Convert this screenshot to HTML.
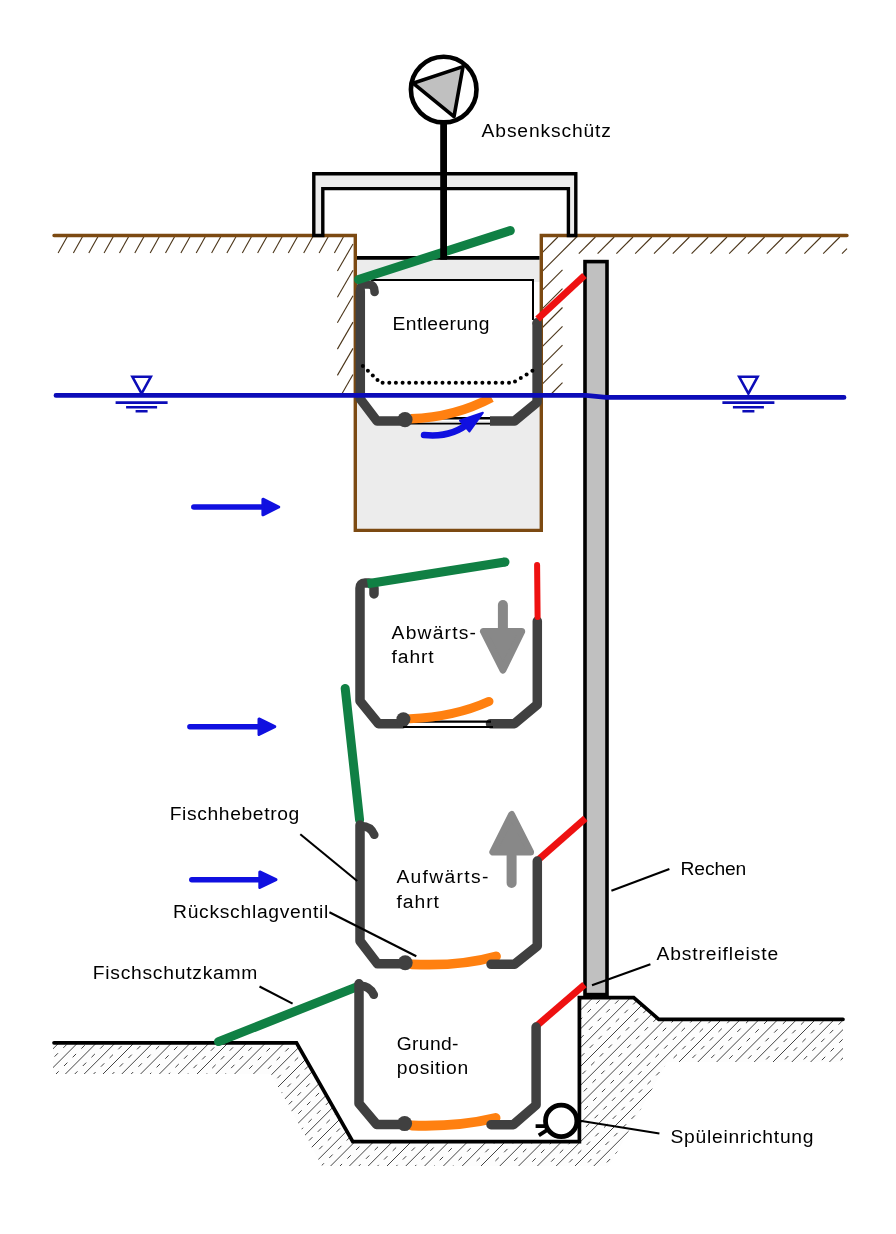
<!DOCTYPE html><html lang="de"><head><meta charset="utf-8"><title>Fischlift</title><style>html,body{margin:0;padding:0;background:#fff}svg{display:block;will-change:transform}text{font-family:"Liberation Sans",sans-serif;font-size:18px;fill:#000}</style></head><body>
<svg width="896" height="1234" viewBox="0 0 896 1234">
<rect width="896" height="1234" fill="#fff"/>
<g stroke="#4a3418" stroke-width="1.1" fill="none">
<path d="M67.6 236L58.1 253"/>
<path d="M82.9 236L73.4 253"/>
<path d="M98.3 236L88.8 253"/>
<path d="M113.6 236L104.1 253"/>
<path d="M129.0 236L119.5 253"/>
<path d="M144.3 236L134.8 253"/>
<path d="M159.7 236L150.2 253"/>
<path d="M175.0 236L165.5 253"/>
<path d="M190.4 236L180.9 253"/>
<path d="M205.7 236L196.2 253"/>
<path d="M221.1 236L211.6 253"/>
<path d="M236.4 236L226.9 253"/>
<path d="M251.8 236L242.3 253"/>
<path d="M267.1 236L257.6 253"/>
<path d="M282.5 236L273.0 253"/>
<path d="M297.8 236L288.3 253"/>
<path d="M313.2 236L303.7 253"/>
<path d="M328.6 236L319.1 253"/>
<path d="M343.9 236L334.4 253"/>
<path d="M353 244.0L337.4 271.0"/>
<path d="M353 270.3L337.4 297.3"/>
<path d="M353 295.8L337.4 322.8"/>
<path d="M353 322.1L337.4 349.1"/>
<path d="M353 348.4L337.4 375.4"/>
<path d="M353 374.6L342.1 393.5"/>
<path d="M542 252.8L557.8 237"/>
<path d="M542 271.6L576.6 237"/>
<path d="M595.4 237L578.8 253.6"/>
<path d="M542.0 290.4L562.5 269.9"/>
<path d="M614.2 237L597.6 253.6"/>
<path d="M542.0 309.2L562.5 288.7"/>
<path d="M633.0 237L616.4 253.6"/>
<path d="M542.0 328.0L562.5 307.5"/>
<path d="M651.8 237L635.2 253.6"/>
<path d="M542.0 346.8L562.5 326.3"/>
<path d="M670.6 237L654.0 253.6"/>
<path d="M542.0 365.6L562.5 345.1"/>
<path d="M689.4 237L672.8 253.6"/>
<path d="M542.0 384.4L562.5 363.9"/>
<path d="M708.2 237L691.6 253.6"/>
<path d="M551.2 394.0L562.5 382.7"/>
<path d="M727.0 237L710.4 253.6"/>
<path d="M745.8 237L729.2 253.6"/>
<path d="M764.6 237L748.0 253.6"/>
<path d="M783.4 237L766.8 253.6"/>
<path d="M802.2 237L785.6 253.6"/>
<path d="M821.0 237L804.4 253.6"/>
<path d="M839.8 237L823.2 253.6"/>
<path d="M847 248.6L842.0 253.6"/>
</g>
<rect x="357" y="258" width="183" height="24" fill="#ececec"/>
<rect x="355.5" y="396" width="186" height="134.5" fill="#ececec"/>
<rect x="360" y="280" width="173" height="115" fill="#fff"/>
<path d="M371 280H533V320" stroke="#000" stroke-width="2" fill="none"/>
<path d="M360 396L360 399L377 421H514L537 402V396Z" fill="#fff"/>
<path d="M54 235.5H355.3V530.4H541.3V235.5H847" stroke="#7c4a12" stroke-width="3.4" fill="none" stroke-linejoin="miter" stroke-linecap="round"/>
<path d="M313.8 235.5V173.8H575.8V235.5H568.4V188.6H322.8V235.5Z" fill="#ececec" stroke="#000" stroke-width="3.4" stroke-linejoin="miter"/>
<path d="M357 257.9H539.5" stroke="#000" stroke-width="3.6"/>
<circle cx="443.7" cy="89.6" r="32.8" fill="#fff" stroke="#000" stroke-width="4.6"/>
<path d="M413 83.2L463 66.6L454 116.6Z" fill="#c0c0c0" stroke="#000" stroke-width="3.6" stroke-linejoin="round"/>
<rect x="585" y="261.6" width="22" height="733" fill="#c0c0c0" stroke="#000" stroke-width="3.6"/>
<g fill="none" stroke-linecap="round" stroke-linejoin="round">
<path d="M360.3 291V399L377 421H405" stroke="#404040" stroke-width="9.5"/>
<path d="M360.3 292V289Q360.3 284.5 365 284.5H368.5Q374.6 284.5 374.6 292" stroke="#404040" stroke-width="8.6"/>
<path d="M490 421H514.5L537.1 402.3V322.5" stroke="#404040" stroke-width="9.5" stroke-linecap="butt"/><circle cx="537.1" cy="322.8" r="4.75" fill="#404040" stroke="none"/>
<path d="M410 418.2H490" stroke="#000" stroke-width="2.4" stroke-linecap="butt"/>
<path d="M410 423.6H490" stroke="#000" stroke-width="1.6" stroke-linecap="butt"/>
<path d="M411 418.8Q455 417.2 491.5 397.6" stroke="#ff8010" stroke-width="9.4" stroke-linecap="butt"/>
<circle cx="405" cy="419.6" r="7.6" fill="#404040"/>
<g fill="#000"><circle cx="362.8" cy="366.1" r="2"/><circle cx="367.9" cy="370.8" r="2"/><circle cx="372.8" cy="375.4" r="2"/><circle cx="377.5" cy="380.0" r="2"/><circle cx="382.6" cy="382.8" r="2"/><circle cx="389.3" cy="382.8" r="2"/><circle cx="395.9" cy="382.8" r="2"/><circle cx="402.6" cy="382.8" r="2"/><circle cx="409.2" cy="382.8" r="2"/><circle cx="415.9" cy="382.8" r="2"/><circle cx="422.5" cy="382.8" r="2"/><circle cx="429.2" cy="382.8" r="2"/><circle cx="435.8" cy="382.8" r="2"/><circle cx="442.5" cy="382.8" r="2"/><circle cx="449.1" cy="382.8" r="2"/><circle cx="455.8" cy="382.8" r="2"/><circle cx="462.4" cy="382.8" r="2"/><circle cx="469.1" cy="382.8" r="2"/><circle cx="475.7" cy="382.8" r="2"/><circle cx="482.4" cy="382.8" r="2"/><circle cx="489.0" cy="382.8" r="2"/><circle cx="495.7" cy="382.8" r="2"/><circle cx="502.3" cy="382.8" r="2"/><circle cx="509.0" cy="382.8" r="2"/><circle cx="515.0" cy="381.4" r="2"/><circle cx="520.8" cy="377.9" r="2"/><circle cx="526.6" cy="374.4" r="2"/><circle cx="532.4" cy="370.8" r="2"/></g>
<path d="M424 435Q452 438 470 422" stroke="#1010e0" stroke-width="6.5"/>
<path d="M482.9 412.7L460 420.5L469.5 431.5Z" fill="#1010e0" stroke="#1010e0" stroke-width="2"/>
</g>
<path d="M56 395.4H586L606 397.4H844" stroke="#0c0cb8" stroke-width="4.8" fill="none" stroke-linecap="round"/>
<g stroke="#0c0cb8" stroke-width="2.6" fill="none"><path d="M132.4 376.8H150.79999999999998L141.6 393.6Z" stroke-linejoin="miter"/><path d="M115.6 402.6H167.6M126.1 407.2H157.1M135.6 411.2H147.6"/></g>
<g stroke="#0c0cb8" stroke-width="2.6" fill="none"><path d="M739.1999999999999 376.8H757.6L748.4 393.6Z" stroke-linejoin="miter"/><path d="M722.4 402.6H774.4M732.9 407.2H763.9M742.4 411.2H754.4"/></g>
<g fill="none" stroke-linecap="round">
<path d="M358.5 279.5L510.3 230.6" stroke="#108044" stroke-width="9"/>
<path d="M443.6 122V259.7" stroke="#000" stroke-width="6.8" stroke-linecap="butt"/>
<path d="M537.6 319L584.5 275.6" stroke="#ee1111" stroke-width="6.8" stroke-linecap="butt"/>
</g>
<g fill="none" stroke-linecap="round" stroke-linejoin="round">
<path d="M374 594V588Q374 583 369 583H365Q360 583 360 588V701L378.5 723.7H403" stroke="#404040" stroke-width="9.5"/>
<path d="M490.5 723.7H514.5L537.3 704.5V621" stroke="#404040" stroke-width="9.5"/>
<path d="M408 721.6H491M403 727H493" stroke="#000" stroke-width="2.1" stroke-linecap="butt"/>
<path d="M410 718.8Q455 716.8 489 701.4" stroke="#ff8010" stroke-width="9"/>
<circle cx="403.4" cy="719.3" r="7" fill="#404040"/>
<path d="M367.5 583.8L505 562" stroke="#108044" stroke-width="9" stroke-linecap="butt"/><circle cx="505" cy="562" r="4.5" fill="#108044"/>
<path d="M537.1 565L537.6 617" stroke="#ee1111" stroke-width="6"/>
</g>
<path d="M502.9 605V630" stroke="#888888" stroke-width="10" stroke-linecap="round"/>
<path d="M483.5 631.5H521.7L502.9 670Z" fill="#888888" stroke="#888888" stroke-width="7" stroke-linejoin="round"/>
<g fill="none" stroke-linecap="round" stroke-linejoin="round">
<path d="M345.2 688.4L359.6 820" stroke="#108044" stroke-width="9"/>
<path d="M360 825V941L377.5 963.8H405" stroke="#404040" stroke-width="9.5"/>
<path d="M361 826Q370.6 826 374.3 834.8" stroke="#404040" stroke-width="8.6"/>
<path d="M412 964.3Q460 966.6 496 956.4" stroke="#ff8010" stroke-width="9.8"/>
<path d="M537.3 860.6L585.4 818.4" stroke="#ee1111" stroke-width="6.8" stroke-linecap="butt"/>
<path d="M491 964.3H514.5L537.3 946V861" stroke="#404040" stroke-width="9.5"/>
<circle cx="405.2" cy="962.8" r="7.5" fill="#404040"/>
</g>
<path d="M511.6 856V883" stroke="#888888" stroke-width="10" stroke-linecap="round"/>
<path d="M492.8 852H530.6L511.6 814.5Z" fill="#888888" stroke="#888888" stroke-width="7" stroke-linejoin="round"/>
<clipPath id="cg"><polygon points="53 1043 296.5 1043 352.8 1141.6 579.4 1141.6 579.4 997.6 633.7 997.6 658.8 1019.3 843 1019.3 843 1062 667 1062 613 1159.5 608 1166 322 1166 271 1074 53 1074"/></clipPath>
<g clip-path="url(#cg)"><rect x="40" y="990" width="820" height="190" fill="#fdfdfd"/><g stroke="#222" stroke-width="0.85" fill="none">
<path d="M93.0 990L-97.0 1180"/>
<path d="M102.4 990L-87.6 1180" stroke-dasharray="4.8 7.5" stroke-dashoffset="9"/>
<path d="M111.8 990L-78.2 1180"/>
<path d="M121.2 990L-68.8 1180" stroke-dasharray="4.8 7.5" stroke-dashoffset="9"/>
<path d="M130.6 990L-59.4 1180"/>
<path d="M140.0 990L-50.0 1180" stroke-dasharray="4.8 7.5" stroke-dashoffset="8"/>
<path d="M149.4 990L-40.6 1180"/>
<path d="M158.8 990L-31.2 1180" stroke-dasharray="4.8 7.5" stroke-dashoffset="8"/>
<path d="M168.2 990L-21.8 1180"/>
<path d="M177.6 990L-12.4 1180" stroke-dasharray="4.8 7.5" stroke-dashoffset="7"/>
<path d="M187.0 990L-3.0 1180"/>
<path d="M196.4 990L6.4 1180" stroke-dasharray="4.8 7.5" stroke-dashoffset="7"/>
<path d="M205.8 990L15.8 1180"/>
<path d="M215.2 990L25.2 1180" stroke-dasharray="4.8 7.5" stroke-dashoffset="7"/>
<path d="M224.6 990L34.6 1180"/>
<path d="M234.0 990L44.0 1180" stroke-dasharray="4.8 7.5" stroke-dashoffset="6"/>
<path d="M243.4 990L53.4 1180"/>
<path d="M252.8 990L62.8 1180" stroke-dasharray="4.8 7.5" stroke-dashoffset="6"/>
<path d="M262.2 990L72.2 1180"/>
<path d="M271.6 990L81.6 1180" stroke-dasharray="4.8 7.5" stroke-dashoffset="5"/>
<path d="M281.0 990L91.0 1180"/>
<path d="M290.4 990L100.4 1180" stroke-dasharray="4.8 7.5" stroke-dashoffset="5"/>
<path d="M299.8 990L109.8 1180"/>
<path d="M309.2 990L119.2 1180" stroke-dasharray="4.8 7.5" stroke-dashoffset="5"/>
<path d="M318.6 990L128.6 1180"/>
<path d="M328.0 990L138.0 1180" stroke-dasharray="4.8 7.5" stroke-dashoffset="4"/>
<path d="M337.4 990L147.4 1180"/>
<path d="M346.8 990L156.8 1180" stroke-dasharray="4.8 7.5" stroke-dashoffset="4"/>
<path d="M356.2 990L166.2 1180"/>
<path d="M365.6 990L175.6 1180" stroke-dasharray="4.8 7.5" stroke-dashoffset="3"/>
<path d="M375.0 990L185.0 1180"/>
<path d="M384.4 990L194.4 1180" stroke-dasharray="4.8 7.5" stroke-dashoffset="3"/>
<path d="M393.8 990L203.8 1180"/>
<path d="M403.2 990L213.2 1180" stroke-dasharray="4.8 7.5" stroke-dashoffset="3"/>
<path d="M412.6 990L222.6 1180"/>
<path d="M422.0 990L232.0 1180" stroke-dasharray="4.8 7.5" stroke-dashoffset="2"/>
<path d="M431.4 990L241.4 1180"/>
<path d="M440.8 990L250.8 1180" stroke-dasharray="4.8 7.5" stroke-dashoffset="2"/>
<path d="M450.2 990L260.2 1180"/>
<path d="M459.6 990L269.6 1180" stroke-dasharray="4.8 7.5" stroke-dashoffset="1"/>
<path d="M469.0 990L279.0 1180"/>
<path d="M478.4 990L288.4 1180" stroke-dasharray="4.8 7.5" stroke-dashoffset="1"/>
<path d="M487.8 990L297.8 1180"/>
<path d="M497.2 990L307.2 1180" stroke-dasharray="4.8 7.5" stroke-dashoffset="1"/>
<path d="M506.6 990L316.6 1180"/>
<path d="M516.0 990L326.0 1180" stroke-dasharray="4.8 7.5" stroke-dashoffset="0"/>
<path d="M525.4 990L335.4 1180"/>
<path d="M534.8 990L344.8 1180" stroke-dasharray="4.8 7.5" stroke-dashoffset="12"/>
<path d="M544.2 990L354.2 1180"/>
<path d="M553.6 990L363.6 1180" stroke-dasharray="4.8 7.5" stroke-dashoffset="11"/>
<path d="M563.0 990L373.0 1180"/>
<path d="M572.4 990L382.4 1180" stroke-dasharray="4.8 7.5" stroke-dashoffset="11"/>
<path d="M581.8 990L391.8 1180"/>
<path d="M591.2 990L401.2 1180" stroke-dasharray="4.8 7.5" stroke-dashoffset="11"/>
<path d="M600.6 990L410.6 1180"/>
<path d="M610.0 990L420.0 1180" stroke-dasharray="4.8 7.5" stroke-dashoffset="10"/>
<path d="M619.4 990L429.4 1180"/>
<path d="M628.8 990L438.8 1180" stroke-dasharray="4.8 7.5" stroke-dashoffset="10"/>
<path d="M638.2 990L448.2 1180"/>
<path d="M647.6 990L457.6 1180" stroke-dasharray="4.8 7.5" stroke-dashoffset="9"/>
<path d="M657.0 990L467.0 1180"/>
<path d="M666.4 990L476.4 1180" stroke-dasharray="4.8 7.5" stroke-dashoffset="9"/>
<path d="M675.8 990L485.8 1180"/>
<path d="M685.2 990L495.2 1180" stroke-dasharray="4.8 7.5" stroke-dashoffset="9"/>
<path d="M694.6 990L504.6 1180"/>
<path d="M704.0 990L514.0 1180" stroke-dasharray="4.8 7.5" stroke-dashoffset="8"/>
<path d="M713.4 990L523.4 1180"/>
<path d="M722.8 990L532.8 1180" stroke-dasharray="4.8 7.5" stroke-dashoffset="8"/>
<path d="M732.2 990L542.2 1180"/>
<path d="M741.6 990L551.6 1180" stroke-dasharray="4.8 7.5" stroke-dashoffset="7"/>
<path d="M751.0 990L561.0 1180"/>
<path d="M760.4 990L570.4 1180" stroke-dasharray="4.8 7.5" stroke-dashoffset="7"/>
<path d="M769.8 990L579.8 1180"/>
<path d="M779.2 990L589.2 1180" stroke-dasharray="4.8 7.5" stroke-dashoffset="7"/>
<path d="M788.6 990L598.6 1180"/>
<path d="M798.0 990L608.0 1180" stroke-dasharray="4.8 7.5" stroke-dashoffset="6"/>
<path d="M807.4 990L617.4 1180"/>
<path d="M816.8 990L626.8 1180" stroke-dasharray="4.8 7.5" stroke-dashoffset="6"/>
<path d="M826.2 990L636.2 1180"/>
<path d="M835.6 990L645.6 1180" stroke-dasharray="4.8 7.5" stroke-dashoffset="5"/>
<path d="M845.0 990L655.0 1180"/>
<path d="M854.4 990L664.4 1180" stroke-dasharray="4.8 7.5" stroke-dashoffset="5"/>
<path d="M863.8 990L673.8 1180"/>
<path d="M873.2 990L683.2 1180" stroke-dasharray="4.8 7.5" stroke-dashoffset="5"/>
<path d="M882.6 990L692.6 1180"/>
<path d="M892.0 990L702.0 1180" stroke-dasharray="4.8 7.5" stroke-dashoffset="4"/>
<path d="M901.4 990L711.4 1180"/>
<path d="M910.8 990L720.8 1180" stroke-dasharray="4.8 7.5" stroke-dashoffset="4"/>
<path d="M920.2 990L730.2 1180"/>
<path d="M929.6 990L739.6 1180" stroke-dasharray="4.8 7.5" stroke-dashoffset="3"/>
<path d="M939.0 990L749.0 1180"/>
<path d="M948.4 990L758.4 1180" stroke-dasharray="4.8 7.5" stroke-dashoffset="3"/>
</g></g>
<path d="M54 1042.8H296.5L352.8 1141.6H579.4V997.6H633.7L658.8 1019.3H843" stroke="#000" stroke-width="3.7" fill="none" stroke-linejoin="miter" stroke-linecap="round"/>
<g fill="none" stroke-linecap="round" stroke-linejoin="round">
<path d="M218.5 1041.6L358 986.4" stroke="#108044" stroke-width="9"/>
<path d="M359 983.8V1103.5L376.6 1124.4H404" stroke="#404040" stroke-width="9.5"/>
<path d="M360 985.6Q370 986 373.8 994.8" stroke="#404040" stroke-width="8.6"/>
<path d="M412 1125.4Q458 1127 495.5 1118" stroke="#ff8010" stroke-width="10"/>
<path d="M536.1 1026.3L584.5 984.6" stroke="#ee1111" stroke-width="6.8" stroke-linecap="butt"/>
<path d="M491 1124.7H513.4L536.1 1105V1027" stroke="#404040" stroke-width="9.5"/>
<circle cx="404.6" cy="1123.6" r="7.5" fill="#404040"/>
</g>
<circle cx="561.2" cy="1120.9" r="15.7" fill="#fff" stroke="#000" stroke-width="4.8"/>
<path d="M535.6 1126.2H545M538.8 1135.4L547 1130.2" stroke="#000" stroke-width="3.8" fill="none"/>
<path d="M193.79999999999998 507H261.4" stroke="#1010e0" stroke-width="5.5" stroke-linecap="round"/>
<path d="M262.9 499.2L278.7 507L262.9 514.8Z" fill="#1010e0" stroke="#1010e0" stroke-width="3" stroke-linejoin="round"/>
<path d="M189.89999999999998 726.7H257.5" stroke="#1010e0" stroke-width="5.5" stroke-linecap="round"/>
<path d="M259.0 718.9000000000001L274.8 726.7L259.0 734.5Z" fill="#1010e0" stroke="#1010e0" stroke-width="3" stroke-linejoin="round"/>
<path d="M191.79999999999998 879.7H258.3" stroke="#1010e0" stroke-width="5.5" stroke-linecap="round"/>
<path d="M259.8 871.9000000000001L276.0 879.7L259.8 887.5Z" fill="#1010e0" stroke="#1010e0" stroke-width="3" stroke-linejoin="round"/>
<g stroke="#000" stroke-width="2.1" fill="none">
<path d="M300.3 834.2L357.2 881"/>
<path d="M329.4 912.2L416.3 956.3"/>
<path d="M259.5 986.5L292.6 1003.6"/>
<path d="M611.4 890.7L669.4 868.9"/>
<path d="M592 985.2L650.4 964.3"/>
<path d="M580 1120.8L659.4 1133.5"/>
</g>
<text transform="translate(481.6 136.5) scale(1.07 1)" textLength="120.9" lengthAdjust="spacing">Absenkschütz</text>
<text transform="translate(392.5 329.6) scale(1.07 1)" textLength="90.5" lengthAdjust="spacing">Entleerung</text>
<text transform="translate(391.6 638.7) scale(1.07 1)" textLength="78.9" lengthAdjust="spacing">Abwärts-</text>
<text transform="translate(391.6 663.2) scale(1.07 1)" textLength="39.3" lengthAdjust="spacing">fahrt</text>
<text transform="translate(396.4 883.1) scale(1.07 1)" textLength="86.0" lengthAdjust="spacing">Aufwärts-</text>
<text transform="translate(396.4 908) scale(1.07 1)" textLength="39.8" lengthAdjust="spacing">fahrt</text>
<text transform="translate(169.7 819.5) scale(1.07 1)" textLength="121.1" lengthAdjust="spacing">Fischhebetrog</text>
<text transform="translate(173 917.9) scale(1.07 1)" textLength="145.2" lengthAdjust="spacing">Rückschlagventil</text>
<text transform="translate(92.7 979.2) scale(1.07 1)" textLength="153.9" lengthAdjust="spacing">Fischschutzkamm</text>
<text transform="translate(680.5 875) scale(1.07 1)" textLength="61.5" lengthAdjust="spacing">Rechen</text>
<text transform="translate(656.4 960) scale(1.07 1)" textLength="113.9" lengthAdjust="spacing">Abstreifleiste</text>
<text transform="translate(670.5 1143.2) scale(1.07 1)" textLength="133.6" lengthAdjust="spacing">Spüleinrichtung</text>
<text transform="translate(396.8 1049.6) scale(1.07 1)" textLength="57.6" lengthAdjust="spacing">Grund-</text>
<text transform="translate(396.8 1073.6) scale(1.07 1)" textLength="66.7" lengthAdjust="spacing">position</text>
</svg></body></html>
